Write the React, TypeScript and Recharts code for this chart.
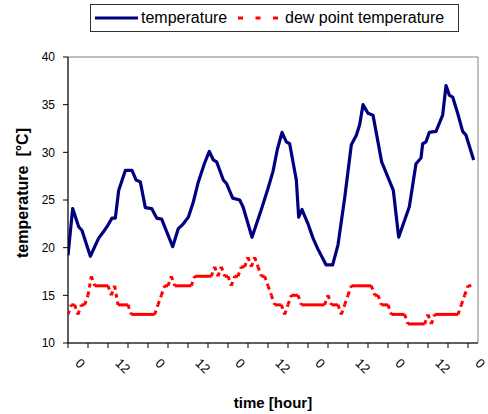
import React from 'react';
import { LineChart, Line, XAxis, YAxis, ReferenceArea, Legend, Label } from 'recharts';

const FONT = '"Liberation Sans", Arial, Helvetica, sans-serif';

// temperature: hour positions of the line's vertices and their values (°C)
const tempHours = [
  0, 1.4, 3.2, 4.2, 6.7, 9.2, 10.7, 11.7, 13.2, 14.2, 15.2, 17.2, 19.2, 20.4, 21.7, 23.2,
  25.1, 26.6, 28.1, 31.4, 33.1, 34.6, 36.1, 37.6, 39.1, 40.9, 42.4, 43.6, 44.6, 46.6, 47.6,
  49.4, 51.5, 52.5, 55.2, 58.0, 60.0, 61.5, 62.8, 64.2, 65.5, 66.5, 68.5, 69.2, 70.2, 72.0,
  73.5, 74.9, 77.4, 79.4, 81.0, 83.0, 85.0, 86.5, 87.5, 88.5, 90.0, 91.5, 94.1, 97.6, 99.2,
  102.4, 104.4, 105.9, 106.4, 107.4, 108.4, 110.4, 112.4, 113.4, 114.4, 115.4, 116.9, 118.4,
  119.4, 121.7,
];
const tempValues = [
  19.2, 24.1, 22.2, 21.8, 19.1, 21.0, 21.7, 22.2, 23.1, 23.1, 26.0, 28.1, 28.1, 27.1, 26.9, 24.2,
  24.1, 23.1, 23.0, 20.1, 22.0, 22.5, 23.2, 24.8, 26.9, 28.8, 30.1, 29.2, 29.0, 27.1, 26.7,
  25.2, 25.0, 24.3, 21.1, 24.0, 26.2, 28.0, 30.3, 32.1, 31.1, 30.9, 27.1, 23.2, 24.0, 22.5,
  21.0, 19.9, 18.2, 18.2, 20.3, 25.2, 30.8, 31.8, 32.9, 35.0, 34.1, 33.9, 29.0, 26.0, 21.1,
  24.3, 28.8, 29.4, 30.9, 31.1, 32.1, 32.2, 33.9, 37.0, 36.0, 35.8, 34.1, 32.2,
  31.8, 29.2,
];

// dew point temperature, hourly (°C), hour 0..121
const dewValues = [
  13, 14, 14, 13, 14, 14, 15, 17, 16, 16, 16, 16, 16, 15, 16, 14, 14, 14, 14, 13,
  13, 13, 13, 13, 13, 13, 13, 14, 15, 16, 16, 17, 16, 16, 16, 16, 16, 16, 17, 17,
  17, 17, 17, 17, 18, 17, 18, 17, 17, 16, 17, 17, 18, 18, 19, 18, 19, 18, 17, 17,
  16, 15, 14, 14, 14, 13, 14, 15, 15, 15, 14, 14, 14, 14, 14, 14, 14, 14, 15, 14,
  14, 14, 13, 14, 15, 16, 16, 16, 16, 16, 16, 16, 15, 15, 14, 14, 14, 13, 13, 13,
  13, 13, 12, 12, 12, 12, 12, 12, 13, 12, 13, 13, 13, 13, 13, 13, 13, 13, 14, 15,
  16, 16,
];

const xTicks = [0, 6, 12, 18, 24, 30, 36, 42, 48, 54, 60, 66, 72, 78, 84, 90, 96, 102, 108, 114, 120];
const xTickLabels: Record<number, string> = {
  0: '0', 12: '12', 24: '0', 36: '12', 48: '0', 60: '12', 72: '0', 84: '12', 96: '0', 108: '12', 120: '0',
};
const yTicks = [10, 15, 20, 25, 30, 35, 40];
const seriesNames = ['temperature', 'dew point temperature'];
const xTitle = 'time [hour]';
const yTitle = 'temperature\u00A0\u00A0[°C]';

const tempData = tempHours.map((h, i) => ({ hour: h, temperature: tempValues[i] }));
const dewData = dewValues.map((v, i) => ({ hour: i, dew: v }));

// Dew point line: each step is its own dashed segment (the dash pattern restarts on
// every segment, as in the original); flat runs are drawn as one solid stroke.
const sameY = (a: any, b: any) => a && b && Math.abs(a.y - b.y) < 0.5;
const DewSegment = (props: any) => {
  const { cx, cy, index, points } = props;
  const key = `dew-${index}`;
  if (!Array.isArray(points) || index === 0 || cx == null || cy == null) return <g key={key} />;
  const prev = points[index - 1];
  const cur = points[index];
  if (!prev) return <g key={key} />;
  if (sameY(prev, cur)) {
    // only the first segment of a flat run draws the whole run
    if (index - 2 >= 0 && sameY(points[index - 2], prev)) return <g key={key} />;
    let j = index;
    while (j + 1 < points.length && sameY(points[j + 1], cur)) j += 1;
    return (
      <line key={key} x1={prev.x} y1={prev.y} x2={points[j].x} y2={points[j].y} stroke="#FF0000" strokeWidth={3} />
    );
  }
  return (
    <line
      key={key}
      x1={prev.x}
      y1={prev.y}
      x2={cx}
      y2={cy}
      stroke="#FF0000"
      strokeWidth={3}
      strokeDasharray="4 4"
      strokeLinecap="butt"
    />
  );
};

const XTick = (props: any) => {
  const { x, y, payload } = props;
  const label = xTickLabels[payload.value];
  if (!label) return <g />;
  const x0 = x + 6.6;
  const y0 = y + 14;
  return (
    <text x={x0} y={y0} transform={`rotate(45 ${x0} ${y0})`} fontSize={13} fontFamily={FONT} fill="#000">
      {label}
    </text>
  );
};

const YTitle = (props: any) => {
  const vb = props.viewBox || { x: 0, y: 57, width: 68, height: 286 };
  const cx = 22;
  const cy = vb.y + vb.height / 2 - 7;
  return (
    <text
      x={cx}
      y={cy}
      transform={`rotate(-90 ${cx} ${cy})`}
      textAnchor="middle"
      dominantBaseline="central"
      fontWeight="bold"
      fontSize={16}
      fontFamily={FONT}
      fill="#000"
    >
      {yTitle}
    </text>
  );
};

const XTitle = (props: any) => {
  const vb = props.viewBox || { x: 68, y: 343, width: 410, height: 71 };
  const cx = vb.x + vb.width / 2;
  return (
    <text x={cx} y={vb.y + 65} textAnchor="middle" fontWeight="bold" fontSize={15} fontFamily={FONT} fill="#000">
      {xTitle}
    </text>
  );
};

const renderLegend = () => (
  <div
    style={{
      position: 'relative',
      width: 369,
      height: 28,
      border: '1px solid #333',
      boxSizing: 'border-box',
      background: '#fff',
      fontFamily: FONT,
      fontSize: 16,
      color: '#000',
    }}
  >
    <svg style={{ position: 'absolute', left: 0, top: 0 }} width={367} height={26}>
      <line x1={4} y1={13} x2={47} y2={13} stroke="#000080" strokeWidth={3} />
      <line x1={147} y1={13} x2={187} y2={13} stroke="#FF0000" strokeWidth={3} strokeDasharray="5 12.5" />
    </svg>
    <span style={{ position: 'absolute', left: 50, top: 0, lineHeight: '26px', whiteSpace: 'nowrap' }}>
      {seriesNames[0]}
    </span>
    <span style={{ position: 'absolute', left: 194, top: 0, lineHeight: '26px', whiteSpace: 'nowrap' }}>
      {seriesNames[1]}
    </span>
  </div>
);

export default function App() {
  return (
    <div style={{ position: 'absolute', left: 0, top: 0, width: 488, height: 414, background: '#fff' }}>
      <LineChart width={488} height={414} margin={{ top: 57, right: 10, bottom: 0, left: 0 }}>
        <ReferenceArea x1={0} x2={123} y1={10} y2={40} stroke="#808080" strokeWidth={1} fill="none" ifOverflow="visible" />
        <XAxis
          type="number"
          dataKey="hour"
          domain={[0, 123]}
          ticks={xTicks}
          interval={0}
          height={71}
          tickSize={5}
          tickMargin={2}
          axisLine={{ stroke: '#000' }}
          tickLine={{ stroke: '#000' }}
          tick={<XTick />}
          allowDataOverflow
        >
          <Label content={<XTitle />} />
        </XAxis>
        <YAxis
          type="number"
          domain={[10, 40]}
          ticks={yTicks}
          interval={0}
          width={68}
          tickSize={5}
          tickMargin={8}
          axisLine={{ stroke: '#000' }}
          tickLine={{ stroke: '#000' }}
          tick={{ fontSize: 12, fill: '#000', fontFamily: FONT }}
          allowDataOverflow
        >
          <Label content={<YTitle />} />
        </YAxis>
        <Legend
          layout="horizontal"
          verticalAlign="middle"
          align="center"
          wrapperStyle={{ top: 4, left: 90, width: 369, height: 28 }}
          content={renderLegend}
        />
        <Line
          data={dewData}
          dataKey="dew"
          name={seriesNames[1]}
          stroke="none"
          dot={DewSegment}
          activeDot={false}
          isAnimationActive={false}
          legendType="none"
        />
        <Line
          data={tempData}
          dataKey="temperature"
          name={seriesNames[0]}
          type="linear"
          stroke="#000080"
          strokeWidth={3.2}
          strokeLinejoin="round"
          dot={false}
          activeDot={false}
          isAnimationActive={false}
        />
      </LineChart>
    </div>
  );
}
